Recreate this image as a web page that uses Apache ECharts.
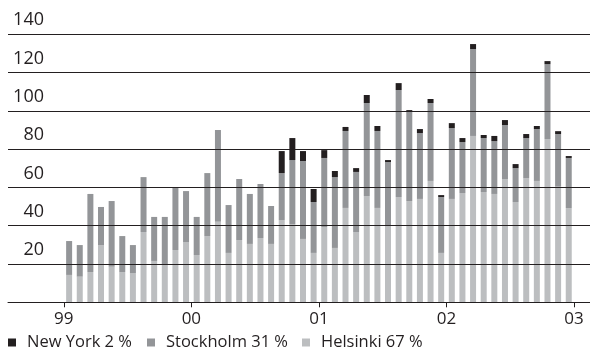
<!DOCTYPE html>
<html>
<head>
<meta charset="utf-8">
<script src="https://cdn.jsdelivr.net/npm/echarts@6/dist/echarts.min.js"></script>
<style>
html,body{margin:0;padding:0;background:#fff;}
#chart{width:590px;height:350px;}
</style>
</head>
<body>
<div id="chart"></div>
<script>
// Monthly values, Jan 1999 .. Dec 2002 (48 months)
const months = Array.from({length:48}, (_, i) => String(1999 + Math.floor(i/12)) + '-' + String(i%12 + 1).padStart(2,'0'));
const helsinki = [14.3,13.4,15.8,29.9,18.6,15.8,15.3,36.7,21.6,19.5,27.3,31.5,
                  24.7,34.6,42.1,25.8,32.5,30.5,33.6,30.5,43.0,40.9,33.1,25.8,
                  39.3,28.4,49.3,36.7,55.5,49.3,40.0,55.0,52.9,54.0,63.4,25.8,
                  54.0,57.1,86.9,57.6,56.6,64.4,52.4,64.9,63.4,85.3,60.4,49.2];
const stockholm = [17.7,16.5,40.8,19.9,34.3,18.8,14.6,28.7,23.0,25.1,32.6,26.6,
                   19.9,32.9,47.9,25.0,31.9,26.1,28.2,19.8,24.5,33.4,40.7,26.6,
                   36.1,37.0,40.2,31.4,48.6,40.2,33.3,55.9,47.0,34.4,40.7,29.2,
                   37.0,26.6,45.4,28.2,27.6,28.2,17.7,20.9,27.1,39.1,27.5,26.2];
const newYork = [0,0,0,0,0,0,0,0,0,0,0,0,
                 0,0,0,0,0,0,0,0,11.5,11.5,5.2,6.8,
                 4.1,3.2,2.1,2.0,4.2,2.6,1.0,3.6,0.5,2.1,2.1,1.0,
                 2.6,2.1,2.6,1.6,2.7,2.6,2.1,2.1,1.6,1.6,1.5,1.0];
const yearTicks = [0,12,24,36,48];
const yearLabels = ['99','00','01','02','03'];
const seriesNames = ['New York 2 %','Stockholm 31 %','Helsinki 67 %'];

const FONT = 'Open Sans';
const X_MIN = -5.25, X_MAX = 49.5;
const GRID_LEFT = 8, GRID_RIGHT = 0, GRID_TOP = 34.3, GRID_BOTTOM = 47.7;
const plotW = 590 - GRID_LEFT - GRID_RIGHT;
const pxPerMonth = plotW / (X_MAX - X_MIN);
const barLeft = GRID_LEFT + (0 - X_MIN) * pxPerMonth;
const barRight = 590 - (GRID_LEFT + (48 - X_MIN) * pxPerMonth);

const chart = echarts.init(document.getElementById('chart'), null, {renderer:'canvas'});
const legendBase = {
  orient:'horizontal', top:334, icon:'rect', itemWidth:8, itemHeight:8,
  padding:0, textStyle:{fontFamily:FONT, fontSize:16.5, color:'#231f20', padding:[0,0,0,6]},
  selectedMode:false
};
chart.setOption({
  animation:false,
  backgroundColor:'#fff',
  grid:[
    {left:GRID_LEFT, right:GRID_RIGHT, top:GRID_TOP, bottom:GRID_BOTTOM, containLabel:false},
    {left:barLeft, right:barRight, top:GRID_TOP, bottom:GRID_BOTTOM, containLabel:false}
  ],
  legend:[
    Object.assign({}, legendBase, {left:8, data:[seriesNames[0]]}),
    Object.assign({}, legendBase, {left:147, data:[seriesNames[1]]}),
    Object.assign({}, legendBase, {left:302, data:[seriesNames[2]]})
  ],
  xAxis:[
    {
      gridIndex:0, type:'value', min:X_MIN, max:X_MAX, z:10,
      splitLine:{show:false},
      axisLine:{show:true, lineStyle:{color:'#231f20', width:1}},
      axisTick:{show:true, customValues:yearTicks, length:5, lineStyle:{color:'#231f20', width:1}},
      axisLabel:{show:true, customValues:yearTicks, margin:8,
        formatter:v=>yearLabels[yearTicks.indexOf(Math.round(v))] || '',
        fontFamily:FONT, fontSize:17, color:'#231f20'}
    },
    {
      gridIndex:1, type:'category', data:months, boundaryGap:true,
      axisLine:{show:false}, axisTick:{show:false}, axisLabel:{show:false}, splitLine:{show:false}
    }
  ],
  yAxis:[
    {
      gridIndex:0, type:'value', min:0, max:140, interval:20, z:10,
      axisLine:{show:false}, axisTick:{show:false},
      splitLine:{show:true, lineStyle:{color:'#231f20', width:1}},
      axisLabel:{show:true, inside:true, align:'right', margin:36,
        verticalAlign:'bottom', padding:[0,0,5,0], showMinLabel:false,
        fontFamily:FONT, fontSize:18, color:'#231f20'}
    },
    {
      gridIndex:1, type:'value', min:0, max:140, interval:20,
      axisLine:{show:false}, axisTick:{show:false}, axisLabel:{show:false}, splitLine:{show:false}
    }
  ],
  series:[
    {name:seriesNames[2], type:'bar', stack:'s', xAxisIndex:1, yAxisIndex:1, barWidth:6, z:1, data:helsinki, itemStyle:{color:'#bcbec0'}},
    {name:seriesNames[1], type:'bar', stack:'s', xAxisIndex:1, yAxisIndex:1, barWidth:6, z:1, data:stockholm, itemStyle:{color:'#939598'}},
    {name:seriesNames[0], type:'bar', stack:'s', xAxisIndex:1, yAxisIndex:1, barWidth:6, z:1, data:newYork, itemStyle:{color:'#231f20'}}
  ]
});
</script>
</body>
</html>
